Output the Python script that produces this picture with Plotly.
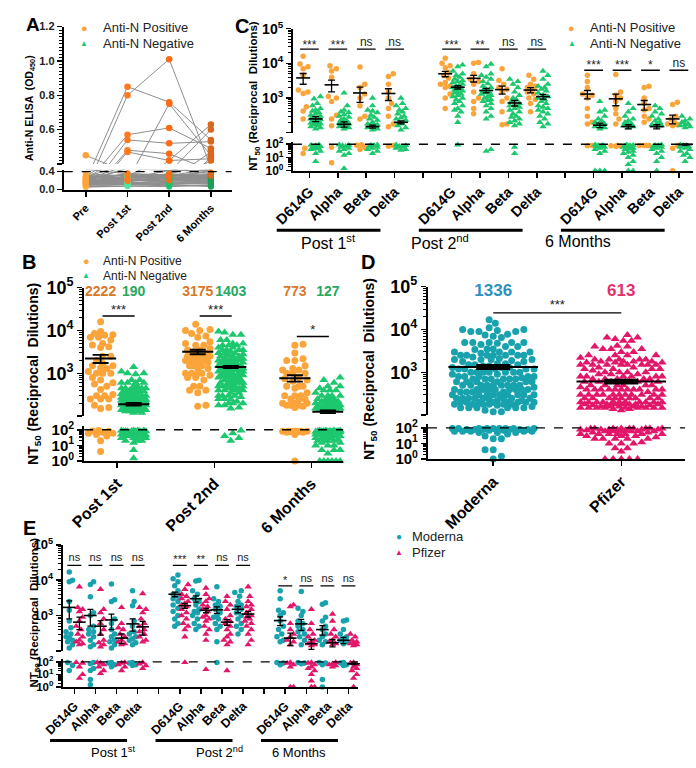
import math
import plotly.graph_objects as go

W, H = 696, 768
FONT = "Liberation Sans, Arial, Helvetica, sans-serif"
ORANGE = '#FAA43A'; GREEN = '#1DC76E'; TEAL = '#17A2AE'; MAGENTA = '#E3176A'

# ---------------- DATA ----------------
A_times = ['Pre', 'Post 1st', 'Post 2nd', '6 Months']
A_pos = [
    [0.30, 0.85, 0.76, 0.54], [0.25, 0.80, 1.01, 0.38], [0.28, 0.57, 0.61, 0.49],
    [0.22, 0.54, 0.52, 0.53], [0.20, 0.48, 0.46, 0.36], [0.18, 0.47, 0.42, 0.43],
    [0.45, 0.35, 0.33, 0.30], [0.15, 0.30, 0.75, 0.45], [0.20, 0.25, 0.42, 0.63],
    [0.12, 0.20, 0.35, 0.60], [0.10, 0.18, 0.30, 0.47], [0.14, 0.22, 0.20, 0.44],
    [0.16, 0.36, 0.28, 0.42]]
A_neg = [
    [0.12, 0.20, 0.25, 0.22], [0.10, 0.15, 0.18, 0.30], [0.08, 0.25, 0.28, 0.20], [0.15, 0.30, 0.22, 0.25],
    [0.20, 0.18, 0.30, 0.33], [0.18, 0.22, 0.15, 0.12], [0.09, 0.12, 0.20, 0.28], [0.25, 0.28, 0.33, 0.35],
    [0.30, 0.32, 0.25, 0.18], [0.14, 0.10, 0.12, 0.15], [0.22, 0.35, 0.30, 0.27], [0.11, 0.14, 0.10, 0.08],
    [0.28, 0.20, 0.18, 0.22], [0.16, 0.26, 0.35, 0.30], [0.06, 0.08, 0.09, 0.10], [0.35, 0.30, 0.28, 0.25],
    [0.19, 0.24, 0.21, 0.32], [0.13, 0.17, 0.26, 0.14], [0.24, 0.12, 0.16, 0.20], [0.27, 0.33, 0.31, 0.29],
    [0.07, 0.11, 0.14, 0.18], [0.21, 0.27, 0.23, 0.12], [0.32, 0.22, 0.19, 0.26], [0.17, 0.19, 0.27, 0.24],
    [0.05, 0.07, 0.06, 0.09], [0.26, 0.31, 0.34, 0.31], [0.23, 0.16, 0.13, 0.16], [0.10, 0.29, 0.24, 0.34],
    [0.29, 0.26, 0.32, 0.28], [0.15, 0.13, 0.11, 0.06]]

VARIANTS = ['D614G', 'Alpha', 'Beta', 'Delta']
B_cats = ['Post 1st', 'Post 2nd', '6 Months']
GROUP_LABELS = ['Post 1<sup>st</sup>', 'Post 2<sup>nd</sup>', '6 Months']

C_pos = [
    [[16000, 9500, 8000, 7000, 4600, 1700, 1500, 1350, 560, 420, 250, 50, 20],
     [8500, 7000, 6000, 4000, 1100, 1000, 800, 320, 250, 160, 60, 4],
     [7800, 2500, 2000, 1300, 1000, 600, 300, 250, 90, 85, 60, 40],
     [5000, 4200, 2500, 1500, 1000, 700, 500, 300, 180, 150, 80, 70]],
    [[14000, 10000, 8500, 7500, 5500, 4500, 3800, 2800, 2500, 2200, 2000, 1300, 1000, 500],
     [10500, 10000, 5000, 3500, 3000, 2500, 1500, 1000, 800, 500, 350],
     [7000, 3200, 2500, 2000, 1800, 1500, 1000, 800, 400, 180, 170],
     [4500, 3500, 2500, 2200, 2000, 1800, 1500, 1300, 1000, 900, 700, 400]],
    [[4500, 3000, 2000, 1300, 1200, 1000, 500, 300, 200, 180, 80, 75],
     [4800, 1500, 1200, 1000, 800, 500, 350, 250, 180, 80, 75, 70, 70],
     [2200, 2000, 1000, 700, 500, 450, 300, 250, 200, 80, 80, 80, 80],
     [750, 650, 300, 250, 200, 180, 170, 160, 80, 50, 1]]]
C_neg = [
    [[1100, 950, 700, 600, 500, 450, 420, 380, 350, 320, 300, 280, 260, 250, 240, 230, 220, 210, 200, 190, 180,
      170, 160, 150, 140, 130, 90, 85, 80, 70, 60, 55, 50, 45, 40, 30, 20, 5],
     [1400, 600, 450, 400, 380, 330, 300, 280, 250, 230, 210, 200, 190, 180, 170, 160, 150, 140, 130, 90, 85, 80,
      70, 60, 50, 40, 30, 20, 15, 1.5],
     [1000, 600, 450, 420, 380, 320, 280, 250, 230, 200, 180, 170, 160, 150, 140, 130, 120, 90, 85, 80, 70, 60,
      50, 40, 30, 20],
     [1000, 700, 600, 500, 450, 400, 350, 300, 270, 250, 230, 200, 180, 160, 140, 120, 90, 80, 70, 60, 50, 40, 35]],
    [[9000, 8000, 6000, 5000, 4500, 4000, 3500, 3200, 3000, 2800, 2500, 2300, 2200, 2000, 1900, 1800, 1700, 1600,
      1500, 1400, 1300, 1200, 1100, 1000, 900, 800, 700, 600, 500, 450, 400, 300, 200, 90],
     [9500, 8000, 5000, 4500, 4000, 3500, 3000, 2600, 2200, 2000, 1800, 1600, 1500, 1400, 1300, 1200, 1100, 1000,
      900, 850, 800, 700, 600, 500, 400, 300, 250, 40, 30],
     [3500, 3000, 2500, 2000, 1500, 1200, 1000, 900, 800, 700, 650, 600, 550, 500, 450, 400, 350, 300, 280, 250,
      220, 200, 180, 160, 60, 20],
     [6000, 4500, 3500, 2500, 2200, 2000, 1800, 1600, 1400, 1200, 1100, 1000, 900, 800, 700, 600, 550, 500, 450,
      400, 350, 300, 250, 200, 180, 150]],
    [[800, 450, 400, 300, 250, 220, 200, 180, 170, 160, 150, 140, 130, 90, 85, 80, 75, 70, 60, 50, 40, 30, 20, 1, 1, 1],
     [700, 500, 400, 300, 250, 220, 200, 180, 170, 160, 150, 140, 90, 85, 80, 75, 70, 65, 60, 55, 50, 45, 40, 30,
      25, 20, 15, 10, 5, 3, 1, 1],
     [600, 500, 400, 350, 300, 250, 220, 200, 180, 170, 160, 150, 90, 85, 80, 70, 60, 50, 40, 30, 20, 10, 5, 1],
     [300, 250, 220, 200, 180, 170, 160, 150, 140, 90, 85, 80, 70, 60, 50, 40, 30, 20, 15, 10, 5]]]
C_mean_pos = [[3800, 2400, 1400, 1350], [5000, 3700, 1750, 1700], [1300, 950, 650, 250]]
C_sem_pos = [[1300, 900, 650, 500], [900, 800, 450, 300], [350, 350, 200, 70]]
C_mean_neg = [[250, 175, 150, 200], [2050, 1650, 720, 1100], [165, 150, 150, 95]]
C_sem_neg = [[40, 30, 15, 20], [230, 250, 130, 170], [25, 20, 20, 8]]
C_sig = [['***', '***', 'ns', 'ns'], ['***', '**', 'ns', 'ns'], ['***', '***', '*', 'ns']]

E_mod = [
    [[17000, 10000, 9000, 2500, 1400, 700, 450, 350, 300, 250, 230, 200, 180, 150, 120, 90, 50, 20],
     [9000, 7500, 3400, 1200, 1000, 500, 400, 350, 300, 250, 200, 150, 130, 90, 70, 30, 20, 4, 1.5],
     [7800, 2800, 2500, 800, 600, 400, 300, 250, 200, 180, 150, 120, 90, 80, 60, 40],
     [5000, 2500, 1900, 700, 500, 350, 300, 250, 220, 200, 170, 150, 90, 80, 60, 50]],
    [[14000, 11000, 9000, 7000, 5000, 4000, 3500, 3000, 2500, 2000, 1600, 1300, 1000, 800, 600, 500],
     [10000, 9500, 5000, 4000, 3000, 2500, 2000, 1500, 1300, 1200, 1000, 800, 600, 500, 400],
     [6500, 3000, 2500, 2000, 1800, 1500, 1200, 1000, 900, 800, 600, 500, 400, 180, 90],
     [5000, 4500, 3500, 2500, 2000, 1800, 1500, 1200, 1000, 800, 600, 500, 400, 300]],
    [[5000, 3000, 1400, 1200, 1000, 700, 500, 400, 300, 250, 200, 180, 90, 80, 60],
     [4800, 1600, 1300, 1000, 700, 600, 500, 400, 350, 300, 250, 200, 150, 90, 80, 70],
     [2300, 2100, 900, 700, 500, 400, 300, 250, 200, 180, 150, 90, 80, 60, 4, 1],
     [750, 700, 400, 300, 250, 220, 200, 180, 160, 90, 80, 60, 50]]]
E_pfz = [
    [[6500, 1700, 1500, 1300, 900, 700, 500, 400, 300, 250, 200, 180, 160, 150, 90, 80, 40, 10, 5],
     [5500, 1500, 1200, 800, 600, 400, 300, 200, 170, 150, 130, 90, 80, 60, 40, 20, 12],
     [1700, 600, 450, 400, 300, 250, 200, 180, 160, 150, 90, 80, 60, 40, 20],
     [4200, 1700, 1500, 1200, 800, 600, 500, 400, 350, 300, 250, 200, 180, 90, 70, 50, 30]],
    [[7500, 5500, 4000, 3500, 3000, 2500, 2200, 2000, 1800, 1500, 1200, 1000, 800, 600, 500, 400, 250, 90],
     [6000, 4000, 3000, 2500, 2000, 1800, 1500, 1300, 1000, 900, 800, 700, 500, 400, 300, 200, 25],
     [3500, 2500, 2000, 1500, 1000, 800, 700, 600, 500, 400, 300, 250, 200, 180, 150, 20],
     [6500, 3500, 2500, 2000, 1800, 1500, 1200, 1000, 900, 800, 700, 600, 500, 400, 300, 200, 150]],
    [[2000, 1800, 600, 400, 300, 250, 200, 180, 150, 90, 80, 60, 40, 1, 1],
     [1500, 600, 400, 300, 250, 200, 180, 160, 150, 140, 90, 80, 60, 40, 30, 20, 10, 3, 1, 1],
     [1100, 700, 400, 300, 250, 200, 180, 160, 150, 90, 70, 60, 50, 40],
     [300, 250, 200, 180, 170, 160, 150, 140, 90, 80, 60, 40, 30, 20, 10, 5, 1]]]
E_mean_mod = [[1700, 1000, 750, 580], [4000, 3000, 1450, 1500], [720, 580, 400, 200]]
E_sem_mod = [[900, 500, 350, 220], [600, 600, 300, 300], [200, 200, 120, 40]]
E_mean_pfz = [[650, 500, 230, 480], [1900, 1400, 650, 1100], [230, 160, 170, 70]]
E_sem_pfz = [[250, 220, 70, 200], [300, 200, 120, 200], [90, 50, 40, 10]]
E_sig = [['ns', 'ns', 'ns', 'ns'], ['***', '**', 'ns', 'ns'], ['*', 'ns', 'ns', 'ns']]

B_mean_pos = [2222, 3175, 773]
B_mean_neg = [190, 1403, 127]
B_sem_pos = [480, 380, 130]
B_sem_neg = [14, 80, 9]
B_sig = ['***', '***', '*']

D_cats = ['Moderna', 'Pfizer']
D_means = [1336, 613]
D_sem = [110, 45]
D_sig = '***'

# B pools the variants of C, D pools the variants/times of E
B_pos = [sum(C_pos[t], []) for t in range(3)]
B_neg = [sum(C_neg[t], []) for t in range(3)]
D_vals = [sum([sum(E_mod[t], []) for t in range(3)], []),
          sum([sum(E_pfz[t], []) for t in range(3)], [])]

# ---------------- GEOMETRY ----------------
def xd(a, b):
    return [a / W, b / W]

def yd(t, b):
    return [1 - b / H, 1 - t / H]

PAN = {
    'A': dict(x='x', yu='y', yl='y2', xr=[-0.53, 3.5], xdom=xd(45, 218)),
    'C': dict(x='x2', yu='y3', yl='y4', xr=[-0.58, 13.5], xdom=xd(281, 693)),
    'B': dict(x='x3', yu='y5', yl='y6', xr=[-0.34, 2.33], xdom=xd(66, 333)),
    'D': dict(x='x4', yu='y7', yl='y8', xr=[-0.51, 1.5], xdom=xd(420, 685)),
    'E': dict(x='x5', yu='y9', yl='y10', xr=[-0.55, 13.45], xdom=xd(44, 348)),
}
GEOM = {
    'C': dict(xppu=29.3, up=35.7, lo=13.5, ms=5.5, maxw=12),
    'E': dict(xppu=21.7, up=36.3, lo=13.0, ms=5.5, maxw=9),
    'B': dict(xppu=100.0, up=44.0, lo=16.0, ms=7.0, maxw=27),
    'D': dict(xppu=131.8, up=44.0, lo=16.0, ms=7.0, maxw=88),
}
STYLE = {
    'pos': dict(symbol='circle', color=ORANGE),
    'neg': dict(symbol='triangle-up', color=GREEN),
    'mod': dict(symbol='circle', color=TEAL),
    'pfz': dict(symbol='triangle-up', color=MAGENTA),
}


def swarm(vals, g):
    ms, maxw = g['ms'], g['maxw']
    items = []
    for i, v in enumerate(vals):
        if v > 100:
            items.append((math.log10(v) * g['up'], i, 0))
        else:
            items.append((math.log10(max(v, 1)) * g['lo'] - 1e5, i, 1))
    items.sort()
    step = ms * 0.3
    nmax = int((maxw / 2) // step)
    cands = [0.0]
    for n in range(1, nmax + 1):
        cands += [n * step, -n * step]
    placed = []
    res = [None] * len(vals)
    for y, i, seg in items:
        d = ms
        found = None
        while found is None:
            for dx in cands:
                ok = True
                for py, pdx in placed:
                    dy = py - y
                    if -d < dy < d and dy * dy + (pdx - dx) ** 2 < d * d:
                        ok = False
                        break
                if ok:
                    found = dx
                    break
            d *= 0.8
        placed.append((y, found))
        res[i] = (found / g['xppu'], seg)
    return res


pts = {}

def put_col(panel, series, vals, center):
    res = swarm(vals, GEOM[panel])
    for (dx, seg), v in zip(res, vals):
        key = (panel, series, seg)
        pts.setdefault(key, ([], []))
        pts[key][0].append(center + dx)
        pts[key][1].append(v)


for t in range(3):
    for v in range(4):
        p = t * 5 + v
        put_col('C', 'pos', C_pos[t][v], p - 0.22)
        put_col('C', 'neg', C_neg[t][v], p + 0.22)
        put_col('E', 'mod', E_mod[t][v], p - 0.24)
        put_col('E', 'pfz', E_pfz[t][v], p + 0.24)
    put_col('B', 'pos', B_pos[t], t - 0.17)
    put_col('B', 'neg', B_neg[t], t + 0.17)
put_col('D', 'mod', D_vals[0], 0)
put_col('D', 'pfz', D_vals[1], 1)

fig = go.Figure()

# ---------------- PANEL A ----------------
POS_T = ['#FBA43A', '#FF7A1E', '#FF6A12', '#D9671C']
NEG_T = ['#FBB040', '#4FE3A5', '#1CC46D', '#16A05A']
lx, ly = [], []
for traj in A_neg + A_pos:
    lx += [0, 1, 2, 3, None]
    ly += traj + [None]
for ya in ['y', 'y2']:
    fig.add_trace(go.Scatter(x=lx, y=ly, xaxis='x', yaxis=ya, mode='lines',
                             line=dict(color='#8E8E8E', width=1), hoverinfo='skip'))
nx, ny, nc = [], [], []
for traj in A_neg:
    for t, v in enumerate(traj):
        nx.append(t); ny.append(v); nc.append(NEG_T[t])
fig.add_trace(go.Scatter(x=nx, y=ny, xaxis='x', yaxis='y2', mode='markers',
                         marker=dict(symbol='circle', size=6, color=nc), cliponaxis=False))
ux, uy, uc, wx, wy, wc = [], [], [], [], [], []
for traj in A_pos:
    for t, v in enumerate(traj):
        if v > 0.4:
            ux.append(t); uy.append(v); uc.append(POS_T[t])
        else:
            wx.append(t); wy.append(v); wc.append(POS_T[t])
fig.add_trace(go.Scatter(x=wx, y=wy, xaxis='x', yaxis='y2', mode='markers',
                         marker=dict(symbol='circle', size=6, color=wc), cliponaxis=False))
fig.add_trace(go.Scatter(x=ux, y=uy, xaxis='x', yaxis='y', mode='markers',
                         marker=dict(symbol='circle', size=6.5, color=uc), cliponaxis=False))
fig.add_trace(go.Scatter(x=PAN['A']['xr'], y=[0.4, 0.4], xaxis='x', yaxis='y2', mode='lines',
                         line=dict(color='black', width=1.3, dash='dash')))

# ---------------- SWARM POINTS ----------------
for (panel, series, seg), (xs, ys) in pts.items():
    pa = PAN[panel]
    st = STYLE[series]
    ms = GEOM[panel]['ms'] + (1.0 if st['symbol'] != 'circle' else 0)
    fig.add_trace(go.Scatter(x=xs, y=ys, xaxis=pa['x'], yaxis=pa['yu'] if seg == 0 else pa['yl'],
                             mode='markers', cliponaxis=False,
                             marker=dict(symbol=st['symbol'], size=ms, color=st['color'], line=dict(width=0))))

# dashed detection lines
for panel in ['C', 'B', 'D', 'E']:
    pa = PAN[panel]
    fig.add_trace(go.Scatter(x=pa['xr'], y=[100, 100], xaxis=pa['x'], yaxis=pa['yl'], mode='lines',
                             line=dict(color='black', width=1.4, dash='dash')))


def add_mean(panel, xs, means, sems, sym_size, capw, thick):
    pa = PAN[panel]
    for seg in (0, 1):
        sel = [i for i, m in enumerate(means) if (m > 100) == (seg == 0)]
        if not sel:
            continue
        fig.add_trace(go.Scatter(
            x=[xs[i] for i in sel], y=[means[i] for i in sel], xaxis=pa['x'],
            yaxis=pa['yu'] if seg == 0 else pa['yl'], mode='markers', cliponaxis=False,
            marker=dict(symbol='line-ew', size=sym_size, color='black', line=dict(width=1.6, color='black')),
            error_y=dict(type='data', array=[sems[i] for i in sel], visible=True, color='black',
                         thickness=thick, width=capw)))


# C and E means
cx, cm, cs, ex, em, es = [], [], [], [], [], []
for t in range(3):
    for v in range(4):
        p = t * 5 + v
        cx += [p - 0.22, p + 0.22]; cm += [C_mean_pos[t][v], C_mean_neg[t][v]]
        cs += [C_sem_pos[t][v], C_sem_neg[t][v]]
        ex += [p - 0.24, p + 0.24]; em += [E_mean_mod[t][v], E_mean_pfz[t][v]]
        es += [E_sem_mod[t][v], E_sem_pfz[t][v]]
add_mean('C', cx, cm, cs, 10, 3.5, 1.3)
add_mean('E', ex, em, es, 9, 3, 1.3)

# B means: long lines + SEM
bx, bm, bs = [], [], []
for t in range(3):
    bx += [t - 0.17, t + 0.17]; bm += [B_mean_pos[t], B_mean_neg[t]]; bs += [B_sem_pos[t], B_sem_neg[t]]
mlx, mly = [], []
for x, m in zip(bx, bm):
    mlx += [x - 0.16, x + 0.16, None]; mly += [m, m, None]
fig.add_trace(go.Scatter(x=mlx, y=mly, xaxis='x3', yaxis='y5', mode='lines', line=dict(color='black', width=2)))
fig.add_trace(go.Scatter(x=bx, y=bm, xaxis='x3', yaxis='y5', mode='markers', marker=dict(size=1, color='rgba(0,0,0,0)'),
                         error_y=dict(type='data', array=bs, visible=True, color='black', thickness=1.8, width=8)))
# D means
mlx, mly = [], []
for x, m in zip([0, 1], D_means):
    mlx += [x - 0.35, x + 0.35, None]; mly += [m, m, None]
fig.add_trace(go.Scatter(x=mlx, y=mly, xaxis='x4', yaxis='y7', mode='lines', line=dict(color='black', width=2)))
fig.add_trace(go.Scatter(x=[0, 1], y=D_means, xaxis='x4', yaxis='y7', mode='markers', marker=dict(size=1, color='rgba(0,0,0,0)'),
                         error_y=dict(type='data', array=D_sem, visible=True, color='black', thickness=3, width=17)))

# mean value labels
fig.add_trace(go.Scatter(x=bx, y=[10 ** 4.89] * 6, xaxis='x3', yaxis='y5', mode='text', cliponaxis=False,
                         text=[str(m) for m in bm],
                         textfont=dict(family=FONT, size=14, weight='bold',
                                       color=['#D9772B', '#27A85E'] * 3)))
fig.add_trace(go.Scatter(x=[0, 1], y=[10 ** 4.89] * 2, xaxis='x4', yaxis='y7', mode='text', cliponaxis=False,
                         text=[str(m) for m in D_means],
                         textfont=dict(family=FONT, size=17, weight='bold', color=['#2E90C2', '#E2306C'])))


# significance bars
def add_sig(panel, xs0, xs1, ys_line, labels, ys_text, fs):
    pa = PAN[panel]
    lx, ly = [], []
    for a, b, y in zip(xs0, xs1, ys_line):
        lx += [a, b, None]; ly += [y, y, None]
    fig.add_trace(go.Scatter(x=lx, y=ly, xaxis=pa['x'], yaxis=pa['yu'], mode='lines', cliponaxis=False,
                             line=dict(color='black', width=1.4)))
    fig.add_trace(go.Scatter(x=[(a + b) / 2 for a, b in zip(xs0, xs1)], y=ys_text, xaxis=pa['x'], yaxis=pa['yu'],
                             mode='text', text=labels, cliponaxis=False,
                             textfont=dict(family=FONT, size=fs, color='#222222')))


for panel, sig, lo_line, hi_line, lo_txt, hi_txt, fs in [
        ('C', C_sig, 3.80, 4.41, 3.99, 4.58, 12), ('E', E_sig, 3.84, 4.42, 4.04, 4.62, 11)]:
    xs0, xs1, yl, yt, lab = [], [], [], [], []
    for t in range(3):
        for v in range(4):
            p = t * 5 + v
            xs0.append(p - 0.33); xs1.append(p + 0.33)
            yl.append(10 ** (lo_line if t == 2 else hi_line))
            s = sig[t][v]
            off = -0.07 if '*' in s else 0
            yt.append(10 ** ((lo_txt if t == 2 else hi_txt) + off))
            lab.append(s)
    add_sig(panel, xs0, xs1, yl, lab, yt, fs)

add_sig('B', [t - 0.15 for t in range(3)], [t + 0.18 for t in range(3)],
        [10 ** 4.34, 10 ** 4.34, 10 ** 3.86], B_sig, [10 ** 4.47, 10 ** 4.47, 10 ** 3.99], 13)
add_sig('D', [0.0], [1.0], [10 ** 4.39], [D_sig], [10 ** 4.55], 13)

# ---------------- AXES ----------------
def minors(a, b):
    out = []
    for e in range(a, b):
        out += [k * 10 ** e for k in range(2, 10)]
    return out

base = dict(showline=True, linecolor='black', linewidth=2, showgrid=False, zeroline=False,
            ticks='outside', tickcolor='black', tickwidth=1.5, ticklen=5)


def up_axis(dom, anchor, fs):
    return dict(base, domain=dom, anchor=anchor, type='log', range=[1.999, 5.002],
                tickvals=[100, 1e3, 1e4, 1e5],
                ticktext=['', '10<sup>3</sup>', '10<sup>4</sup>', '10<sup>5</sup>'],
                tickfont=dict(family=FONT, size=fs, color='black', weight='bold'),
                minor=dict(tickvals=minors(2, 5), ticklen=3, tickwidth=1, tickcolor='black', ticks='outside'))


def lo_axis(dom, anchor, fs, top=2.2):
    return dict(base, domain=dom, anchor=anchor, type='log', range=[-0.002, top],
                tickvals=[1, 10, 100], ticktext=['10<sup>0</sup>', '10<sup>1</sup>', '10<sup>2</sup>'],
                tickfont=dict(family=FONT, size=fs, color='black', weight='bold'),
                minor=dict(tickvals=minors(0, 2), ticklen=3, tickwidth=1, tickcolor='black', ticks='outside'))


def x_axis(pa, anchor, vals, text, fs):
    return dict(base, domain=pa['xdom'], anchor=anchor, range=pa['xr'], tickvals=vals, ticktext=text,
                tickangle=-45, tickfont=dict(family=FONT, size=fs, color='black', weight='bold'))


ctext = []
for t in range(3):
    ctext += VARIANTS + ([''] if t < 2 else [])

layout = dict(
    width=W, height=H, margin=dict(l=0, r=0, t=0, b=0), showlegend=False,
    paper_bgcolor='white', plot_bgcolor='white',
    xaxis=x_axis(PAN['A'], 'y2', [0, 1, 2, 3], A_times, 11),
    yaxis=dict(base, domain=yd(15, 156), anchor='x', range=[0.4, 1.2], tickvals=[0.4, 0.6, 0.8, 1.0, 1.2],
               ticktext=['', '0.6', '0.8', '1.0', '1.2'],
               tickfont=dict(family=FONT, size=11, color='#222', weight='bold'),
               minor=dict(dtick=0.02, tick0=0, ticklen=2.5, tickwidth=1, tickcolor='black', ticks='outside')),
    yaxis2=dict(base, domain=yd(162, 183), anchor='x', range=[-0.02, 0.44], tickvals=[0, 0.4],
                ticktext=['0.0', '0.4'], tickfont=dict(family=FONT, size=11, color='#222', weight='bold')),
    xaxis2=x_axis(PAN['C'], 'y4', list(range(14)), ctext, 14.5),
    yaxis3=up_axis(yd(17, 124), 'x2', 14),
    yaxis4=lo_axis(yd(133, 163), 'x2', 12),
    xaxis3=x_axis(PAN['B'], 'y6', [0, 1, 2], B_cats, 16),
    yaxis5=up_axis(yd(283, 415), 'x3', 18),
    yaxis6=lo_axis(yd(425, 461), 'x3', 15, 2.25),
    xaxis4=x_axis(PAN['D'], 'y8', [0, 1], D_cats, 16),
    yaxis7=up_axis(yd(282, 414), 'x4', 18),
    yaxis8=lo_axis(yd(423, 459), 'x4', 15, 2.25),
    xaxis5=x_axis(PAN['E'], 'y10', list(range(14)), ctext, 12.5),
    yaxis9=up_axis(yd(547, 656), 'x5', 13),
    yaxis10=lo_axis(yd(664, 693), 'x5', 11.5, 2.25),
)
fig.update_layout(**layout)


def ann(x, y, text, size, color='black', xanchor='center', angle=0):
    return dict(x=x / W, y=1 - y / H, xref='paper', yref='paper', text=text, showarrow=False,
                font=dict(family=FONT, size=size, color=color), xanchor=xanchor, yanchor='middle',
                textangle=angle)


anns = [
    ann(13, 13, '<b>A</b>', 19), ann(229, 14, '<b>C</b>', 20), ann(9, 257, '<b>B</b>', 20),
    ann(358, 257, '<b>D</b>', 20), ann(10, 530, '<b>E</b>', 20),
    ann(11, 99, '<b>Anti-N ELISA  (OD<sub>450</sub>)</b>', 10.5, angle=-90),
    ann(241, 86, '<b>NT<sub>50</sub> (Reciprocal  Dilutions)</b>', 11.5, angle=-90),
    ann(15, 372, '<b>NT<sub>50</sub> (Reciprocal  Dilutions)</b>', 14, angle=-90),
    ann(361, 367, '<b>NT<sub>50</sub> (Reciprocal  Dilutions)</b>', 14, angle=-90),
    ann(15, 617, '<b>NT<sub>50</sub> (Reciprocal  Dilutions)</b>', 11.5, angle=-90),
]
# legends
for (mx, my, tx, dy, fs) in [(66, 16, 83, 16, 13), (568, 16, 585, 16, 13), (68, 256, 83, 15, 12)]:
    anns += [ann(mx, my, '●', 11, ORANGE), ann(mx, my + dy, '▲', 8, GREEN),
             ann(tx, my, 'Anti-N Positive', fs, '#222', 'left'),
             ann(tx, my + dy, 'Anti-N Negative', fs, '#222', 'left')]
anns += [ann(390, 539, '●', 10, TEAL), ann(390, 555, '▲', 8, MAGENTA),
         ann(402, 539, 'Moderna', 13, '#222', 'left'), ann(402, 555, 'Pfizer', 13, '#222', 'left')]

shapes = []
for panel, ybar, ylab, fs in [('C', 224, 236, 16), ('E', 748, 760, 13)]:
    pa = PAN[panel]
    d0, d1 = pa['xdom']; r0, r1 = pa['xr']
    for t in range(3):
        a = t * 5 - 1.15; b = t * 5 + 2.5
        pa_ = d0 + (a - r0) / (r1 - r0) * (d1 - d0)
        pb_ = d0 + (b - r0) / (r1 - r0) * (d1 - d0)
        shapes.append(dict(type='line', xref='paper', yref='paper', x0=pa_, x1=pb_,
                           y0=1 - ybar / H, y1=1 - ybar / H, line=dict(color='black', width=3)))
        anns.append(dict(x=(pa_ + pb_) / 2, y=1 - ylab / H, xref='paper', yref='paper', text=GROUP_LABELS[t],
                         showarrow=False, font=dict(family=FONT, size=fs, color='black'), yanchor='middle'))

fig.update_layout(annotations=anns, shapes=shapes)
fig.write_html("out.html", config={'displayModeBar': False, 'staticPlot': True},
               post_script="document.body.style.margin='0px';document.body.style.padding='0px';"
                           "document.documentElement.style.overflow='hidden';")
